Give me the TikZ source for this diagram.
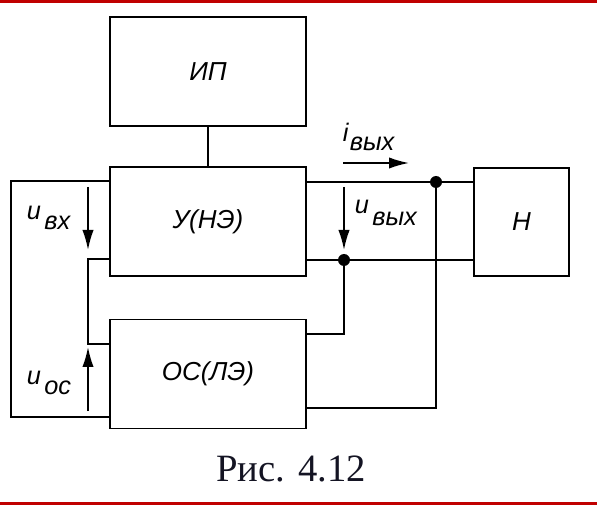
\documentclass[tikz,border=0pt]{standalone}
\usepackage{fontspec}
\setmainfont{Liberation Sans}
\newfontfamily\capfont{Liberation Serif}
\usetikzlibrary{arrows.meta}
\definecolor{barred}{RGB}{192,0,0}
\definecolor{capcol}{RGB}{20,20,35}
\newcommand\sublbl[3]{{\fontsize{19}{19}\selectfont\itshape #1}\hspace{2.5pt}\raisebox{-#3}{\fontsize{19}{19}\selectfont\itshape #2}}
\begin{document}
\begin{tikzpicture}[x=0.75pt,y=-0.75pt,line width=1.3pt,
  blockbox/.style={draw,line width=1.3pt,inner sep=0pt,minimum width=147pt,minimum height=81.75pt,font=\fontsize{19.5}{20}\selectfont\itshape},
  loadbox/.style={blockbox,minimum width=71.25pt,minimum height=81pt},
  lbl/.style={anchor=base west,inner sep=0pt},
  sigarrow/.style={-{Latex[length=15pt,width=8.5pt]},line width=1.3pt},
  dotstyle/.style={circle,fill,inner sep=0pt,minimum size=9pt}]
\useasboundingbox (0,0) rectangle (597,506);
\fill[barred] (0,0.5) rectangle (597,3.5);
\fill[barred] (0,501.5) rectangle (597,504.5);
% blocks
\node[blockbox] (IP) at (208,71.5) {ИП};
\node[blockbox] (U) at (208,221.5) {У(НЭ)};
\node[blockbox] (OS) at (208,374) {ОС(ЛЭ)};
\node[loadbox] (N) at (521.5,222) {Н};
% junctions
\node[dotstyle] (d1) at (436,182) {};
\node[dotstyle] (d2) at (344,260) {};
\coordinate (lt) at (11,181);
\coordinate (lb) at (11,417);
\coordinate (it) at (88,259);
\coordinate (ib) at (88,344);
\coordinate (r1) at (344,334);
\coordinate (r2) at (436,408);
% wires
\draw (IP.south) -- (U.north);
\draw (U.east |- d1) -- (d1.center) -- (N.west |- d1);
\draw (U.east |- d2) -- (d2.center) -- (N.west |- d2);
\draw (U.west |- lt) -- (lt) -- (lb) -- (OS.west |- lb);
\draw (U.west |- it) -- (it) -- (ib) -- (OS.west |- ib);
\draw (OS.east |- r1) -- (r1) -- (d2.center);
\draw (OS.east |- r2) -- (r2) -- (d1.center);
% signal arrows
\coordinate (a1s) at (88,187); \coordinate (a1e) at (88,250);
\coordinate (a2s) at (88,411); \coordinate (a2e) at (88,347);
\coordinate (a3s) at (344,187); \coordinate (a3e) at (344,250);
\coordinate (a4s) at (343,163); \coordinate (a4e) at (409,163);
\draw[sigarrow] (a1s) -- (a1e);
\draw[sigarrow] (a2s) -- (a2e);
\draw[sigarrow] (a3s) -- (a3e);
\draw[sigarrow] (a4s) -- (a4e);
% labels
\node[lbl] (uvx) at (26,220) {\sublbl{u}{вх}{7.5pt}};
\node[lbl] (uos) at (26,385) {\sublbl{u}{ос}{7.5pt}};
\node[lbl] (uvyx) at (354,214) {\sublbl{u}{вых}{8.5pt}};
\node[lbl] (ivyx) at (342,142) {{\fontsize{19}{19}\selectfont\itshape i}\hspace{1pt}\raisebox{-6.75pt}{\fontsize{19}{19}\selectfont\itshape вых}};
\node[anchor=base,inner sep=0pt,text=capcol,font=\capfont\fontsize{29}{29}\selectfont] (cap) at (291,481) {Рис. 4.12};
\end{tikzpicture}
\end{document}
